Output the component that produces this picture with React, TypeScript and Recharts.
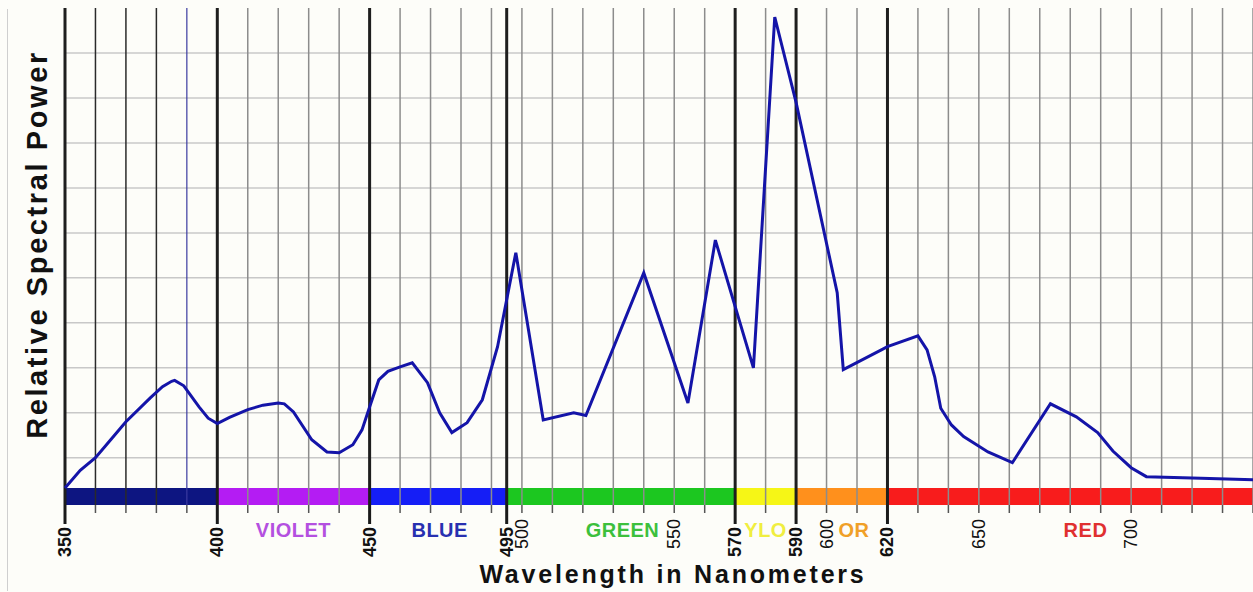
import React from 'react';
import { LineChart, Line, XAxis, YAxis, ReferenceLine, ReferenceArea } from 'recharts';

const FONT = '"Liberation Sans", Arial, Helvetica, sans-serif';

// spectrum samples
const wavelengths = [
  350, 355, 360, 365, 370, 378, 382, 385, 386, 389, 394, 397, 400, 404, 410, 415, 420, 422, 425,
  431, 436, 440, 444.5, 447.5, 450, 453, 456, 460, 464, 469, 473, 477, 482, 487, 492, 498, 507,
  517, 521, 540, 554.5, 563.5, 576, 583, 590, 603.5, 605.5, 618, 620, 630, 633, 635.5, 637.5, 641,
  645, 653, 661, 673.5, 682, 689, 694, 700, 705, 720, 740,
];
const power = [
  0.33, 0.72, 1.0, 1.4, 1.8, 2.33, 2.58, 2.7, 2.72, 2.6, 2.13, 1.88, 1.76, 1.9, 2.07, 2.17, 2.22, 2.2, 2.02,
  1.4, 1.13, 1.11, 1.29, 1.62, 2.13, 2.73, 2.92, 3.02, 3.11, 2.67, 2.0, 1.56, 1.78, 2.29, 3.47, 5.56, 1.84,
  2.0, 1.94, 5.11, 2.22, 5.84, 3.0, 10.8, 8.9, 4.67, 2.96, 3.4, 3.47, 3.71, 3.4, 2.8, 2.1, 1.73,
  1.47, 1.13, 0.89, 2.2, 1.91, 1.56, 1.15, 0.78, 0.58, 0.55, 0.51,
];

const majorLines = [350, 400, 450, 495, 570, 590, 620];
const darkLines = [360, 370, 380];
const blueLines = [390];
const greyLines = [
  410, 420, 430, 440, 460, 470, 480, 490, 500, 510, 520, 530, 540, 550, 560, 580, 600, 610,
  630, 640, 650, 660, 670, 680, 690, 700, 710, 720, 730, 740,
];
const boldLabels = [350, 400, 450, 495, 570, 590, 620];
const plainLabels = [500, 550, 600, 650, 700];
const powerGrid = [1, 2, 3, 4, 5, 6, 7, 8, 9, 10];

const bandFrom = [350, 400, 450, 495, 570, 590, 620];
const bandTo = [400, 450, 495, 570, 590, 620, 740];
const bandColors = ['#00087a', '#b010f2', '#0812f5', '#10c414', '#f5f50a', '#ff8a10', '#f81010'];
const bandNames = ['VIOLET', 'BLUE', 'GREEN', 'YLO', 'OR', 'RED'];
const bandNameAt = [425, 473, 533, 580, 609, 685];
const bandNameColors = ['#b450e0', '#2830b0', '#3cc03c', '#f0ee40', '#f0a028', '#e03030'];

const data = wavelengths.map((w, i) => ({ w, p: power[i] }));

// tick mark + rotated number under the colour band, hung off each grid line
const tickMark = (v: number) => (p: any) => {
  const vb = p.viewBox;
  if (!vb) return null;
  const x = vb.x;
  const y = vb.y + vb.height;
  const major = majorLines.includes(v);
  const bold = boldLabels.includes(v);
  const plain = plainLabels.includes(v);
  return (
    <g>
      <line
        x1={x}
        x2={x}
        y1={y}
        y2={y + (major ? 19 : 8)}
        stroke={major ? '#1a1a1a' : '#555'}
        strokeWidth={major ? 3 : 1.5}
      />
      {(bold || plain) && (
        <text
          transform={`translate(${x},${y + (major ? 22 : 14)}) rotate(-90)`}
          textAnchor="end"
          dominantBaseline="central"
          fontSize={18}
          fontWeight={bold ? 700 : 400}
          fontFamily={FONT}
          fill="#111"
        >
          {v}
        </text>
      )}
    </g>
  );
};

export default function App() {
  return (
    <div style={{ position: 'absolute', left: 0, top: 0, width: 1253, height: 592, background: '#fdfdf9' }}>
      <div style={{ position: 'absolute', left: 7, top: 9, width: 1, height: 582, background: '#cfcfcf' }} />
      <LineChart width={1253} height={592} data={data} margin={{ top: 8, right: 0, left: 0, bottom: 0 }}>
        <XAxis
          dataKey="w"
          type="number"
          domain={[350, 740]}
          height={87}
          axisLine={false}
          tickLine={false}
          tick={false}
          label={{
            content: (p: any) => {
              const vb = p.viewBox;
              return (
                <text
                  x={vb.x + vb.width / 2 + 14}
                  y={vb.y + vb.height - 9}
                  textAnchor="middle"
                  fontSize={25}
                  fontWeight={700}
                  letterSpacing={2.8}
                  fontFamily={FONT}
                  fill="#111"
                >
                  Wavelength in Nanometers
                </text>
              );
            },
          }}
        />
        <YAxis
          type="number"
          domain={[-0.05, 11]}
          ticks={powerGrid}
          width={65}
          tick={false}
          axisLine={false}
          tickLine={false}
          label={{
            content: (p: any) => {
              const vb = p.viewBox;
              const cx = vb.x + 37;
              const cy = vb.y + vb.height / 2 - 12;
              return (
                <text
                  transform={`translate(${cx},${cy}) rotate(-90)`}
                  textAnchor="middle"
                  dominantBaseline="central"
                  fontSize={29}
                  fontWeight={700}
                  letterSpacing={2.6}
                  fontFamily={FONT}
                  fill="#111"
                >
                  Relative Spectral Power
                </text>
              );
            },
          }}
        />
        {powerGrid.map((v) => (
          <ReferenceLine key={'h' + v} y={v} stroke="#c8c8c8" strokeWidth={1.5} />
        ))}
        {greyLines.map((v) => (
          <ReferenceLine key={'g' + v} x={v} stroke="#8c8c8c" strokeWidth={1.5} label={{ content: tickMark(v) }} />
        ))}
        {darkLines.map((v) => (
          <ReferenceLine key={'d' + v} x={v} stroke="#2a2a2a" strokeWidth={1.5} label={{ content: tickMark(v) }} />
        ))}
        {blueLines.map((v) => (
          <ReferenceLine key={'b' + v} x={v} stroke="#3a3aa0" strokeWidth={1.2} label={{ content: tickMark(v) }} />
        ))}
        {majorLines.map((v) => (
          <ReferenceLine key={'m' + v} x={v} stroke="#1e1e1e" strokeWidth={3} label={{ content: tickMark(v) }} />
        ))}
        {bandFrom.map((f, i) => (
          <ReferenceArea
            key={'band' + f}
            x1={f}
            x2={bandTo[i]}
            y1={-0.05}
            y2={0.33}
            fill={bandColors[i]}
            fillOpacity={0.95}
            stroke="none"
          />
        ))}
        {bandNames.map((n, i) => (
          <ReferenceLine
            key={'n' + n}
            x={bandNameAt[i]}
            stroke="none"
            label={{
              value: n,
              position: 'bottom',
              offset: 18,
              fill: bandNameColors[i],
              fontSize: 20,
              fontWeight: 700,
              letterSpacing: 0.5,
              fontFamily: FONT,
            }}
          />
        ))}
        <Line
          type="linear"
          dataKey="p"
          stroke="#1414a8"
          strokeWidth={3}
          dot={false}
          isAnimationActive={false}
        />
      </LineChart>
    </div>
  );
}
